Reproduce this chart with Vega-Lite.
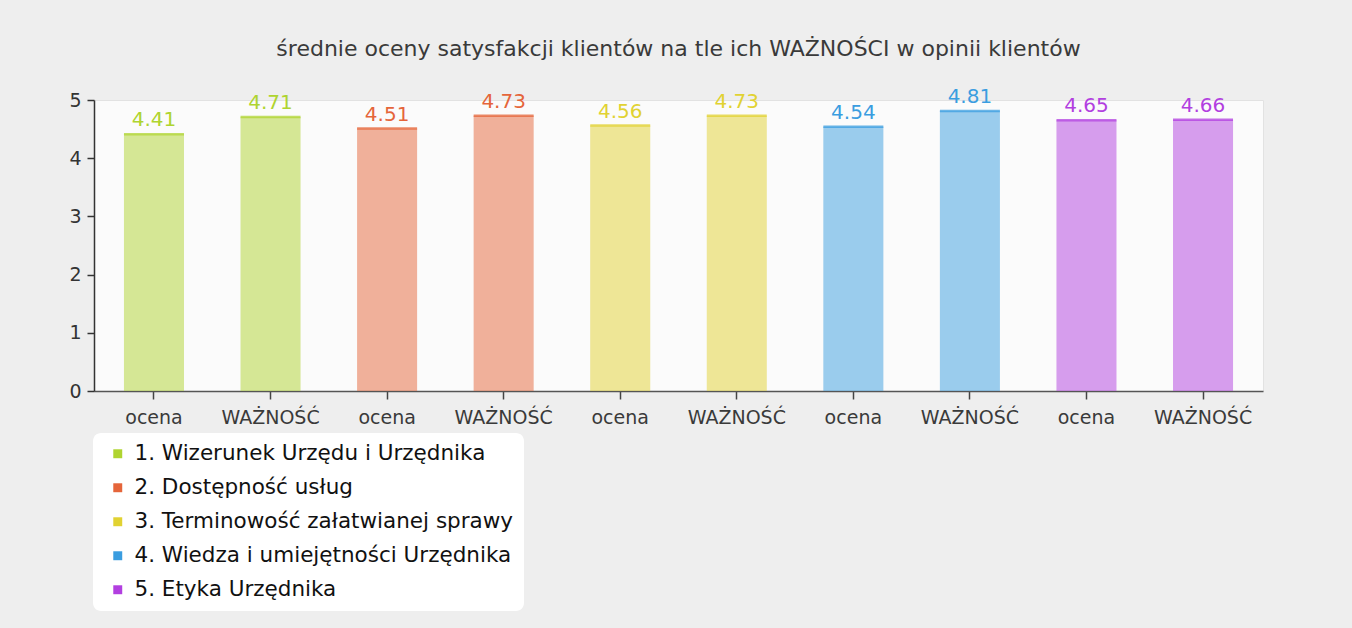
{
  "$schema": "https://vega.github.io/schema/vega-lite/v6.json",
  "autosize": "none",
  "width": 1169,
  "height": 291,
  "padding": {"left": 94, "top": 100, "right": 89, "bottom": 237},
  "background": "#eeeeee",
  "title": {
    "text": "średnie oceny satysfakcji klientów na tle ich WAŻNOŚCI w opinii klientów",
    "anchor": "middle",
    "font": "DejaVu Sans",
    "fontSize": 22,
    "fontWeight": "normal",
    "color": "#3a3a3a",
    "offset": 26
  },
  "config": {
    "font": "DejaVu Sans",
    "view": {"fill": "#fbfbfb", "stroke": "#e2e2e2"}
  },
  "data": {
    "values": [
      {"key": "1ocena", "series": "1. Wizerunek Urzędu i Urzędnika", "value": 4.41},
      {"key": "1WAŻNOŚĆ", "series": "1. Wizerunek Urzędu i Urzędnika", "value": 4.71},
      {"key": "2ocena", "series": "2. Dostępność usług", "value": 4.51},
      {"key": "2WAŻNOŚĆ", "series": "2. Dostępność usług", "value": 4.73},
      {"key": "3ocena", "series": "3. Terminowość załatwianej sprawy", "value": 4.56},
      {"key": "3WAŻNOŚĆ", "series": "3. Terminowość załatwianej sprawy", "value": 4.73},
      {"key": "4ocena", "series": "4. Wiedza i umiejętności Urzędnika", "value": 4.54},
      {"key": "4WAŻNOŚĆ", "series": "4. Wiedza i umiejętności Urzędnika", "value": 4.81},
      {"key": "5ocena", "series": "5. Etyka Urzędnika", "value": 4.65},
      {"key": "5WAŻNOŚĆ", "series": "5. Etyka Urzędnika", "value": 4.66}
    ]
  },
  "encoding": {
    "x": {
      "field": "key",
      "type": "nominal",
      "sort": null,
      "scale": {"paddingInner": 0.485, "paddingOuter": 0.257},
      "axis": {
        "title": null,
        "labelAngle": 0,
        "labelExpr": "substring(datum.label, 1)",
        "labelFontSize": 19,
        "labelColor": "#3a3a3a",
        "labelPadding": 9,
        "domainColor": "#555555",
        "domainWidth": 1.5,
        "tickColor": "#444444",
        "tickSize": 8,
        "tickWidth": 1.5
      }
    },
    "y": {
      "field": "value",
      "type": "quantitative",
      "scale": {"domain": [0, 5], "nice": false},
      "axis": {
        "title": null,
        "values": [0, 1, 2, 3, 4, 5],
        "grid": false,
        "labelFontSize": 19,
        "labelColor": "#333333",
        "labelPadding": 6,
        "domainColor": "#333333",
        "domainWidth": 1.5,
        "tickColor": "#333333",
        "tickSize": 7,
        "tickWidth": 1.5
      }
    },
    "color": {
      "field": "series",
      "type": "nominal",
      "sort": null,
      "scale": {
        "domain": ["1. Wizerunek Urzędu i Urzędnika", "2. Dostępność usług", "3. Terminowość załatwianej sprawy", "4. Wiedza i umiejętności Urzędnika", "5. Etyka Urzędnika"],
        "range": ["#afd430", "#e5653a", "#e1d232", "#3a9de0", "#b23fe0"]
      },
      "legend": {
        "title": null,
        "orient": "none",
        "legendX": -1,
        "legendY": 333,
        "direction": "vertical",
        "fillColor": "#ffffff",
        "cornerRadius": 8,
        "padding": 10,
        "symbolOffset": 4,
        "symbolType": "square",
        "symbolSize": 80,
        "symbolOpacity": 1,
        "symbolStrokeWidth": 0,
        "labelFontSize": 21.5,
        "labelColor": "#111111",
        "labelOffset": 6,
        "rowPadding": 11,
        "labelLimit": 600
      }
    }
  },
  "layer": [
    {"mark": {"type": "bar", "fillOpacity": 0.5, "strokeWidth": 0}},
    {"mark": {"type": "tick", "size": 60, "thickness": 2.5, "opacity": 0.75}},
    {
      "mark": {"type": "text", "baseline": "bottom", "dy": -4, "fontSize": 20},
      "encoding": {"text": {"field": "value", "type": "quantitative", "format": ".2f"}}
    }
  ]
}
